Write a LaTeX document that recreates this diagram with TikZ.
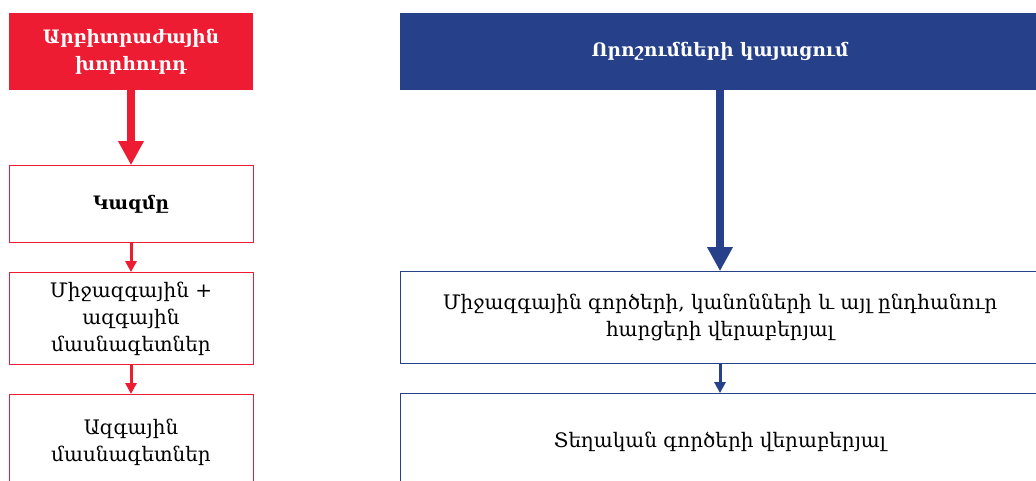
\documentclass[tikz,border=0pt]{standalone}
\usepackage{fontspec}
\setmainfont{DejaVu Serif}
\usetikzlibrary{positioning,arrows.meta}
\definecolor{arbred}{HTML}{EE1C33}
\definecolor{decblue}{HTML}{26418A}

\begin{document}
\begin{tikzpicture}[x=1pt,y=1pt,
        headbox/.style={rectangle,inner sep=0pt,align=center,text=white,
                font=\bfseries\fontsize{18.5}{27}\selectfont},
        bodybox/.style={rectangle,inner sep=0pt,align=center,fill=white,
                line width=0.9pt,font=\fontsize{20}{27}\selectfont},
        redbox/.style={bodybox,draw=arbred,minimum width=244pt},
        bluebox/.style={bodybox,draw=decblue,minimum width=640pt},
        bigarrow/.style={line width=8pt,-{Triangle[width=24pt,length=24pt]}},
        smallarrow/.style={line width=3pt,-{Triangle[width=11pt,length=11pt]}}]
        \clip (0,0) rectangle (1036,-480);
        % left column
        \node[headbox,fill=arbred,minimum width=244pt,minimum height=77pt] (arb) at (131,-51.5)
                {Արբիտրաժային\\խորհուրդ};
        \node[redbox,minimum height=77pt,below=75pt of arb] (kazm)
                {\bfseries\fontsize{18.5}{27}\selectfont Կազմը};
        \node[redbox,minimum height=92pt,below=29pt of kazm] (mix)
                {Միջազգային +\\ազգային\\մասնագետներ};
        \node[redbox,minimum height=96pt,below=29pt of mix] (nat)
                {Ազգային\\մասնագետներ};
        % right column
        \node[headbox,fill=decblue,minimum width=640pt,minimum height=77pt] (dec) at (720,-51.5)
                {Որոշումների կայացում};
        \node[bluebox,minimum height=92pt,below=181pt of dec] (intl)
                {Միջազգային գործերի, կանոնների և այլ ընդհանուր\\հարցերի վերաբերյալ};
        \node[bluebox,minimum height=96pt,below=29pt of intl] (local)
                {Տեղական գործերի վերաբերյալ};
        % connectors
        \draw[bigarrow,arbred] (arb) -- (kazm);
        \draw[smallarrow,arbred] (kazm) -- (mix);
        \draw[smallarrow,arbred] (mix) -- (nat);
        \draw[bigarrow,decblue] (dec) -- (intl);
        \draw[smallarrow,decblue] (intl) -- (local);
\end{tikzpicture}
\end{document}
